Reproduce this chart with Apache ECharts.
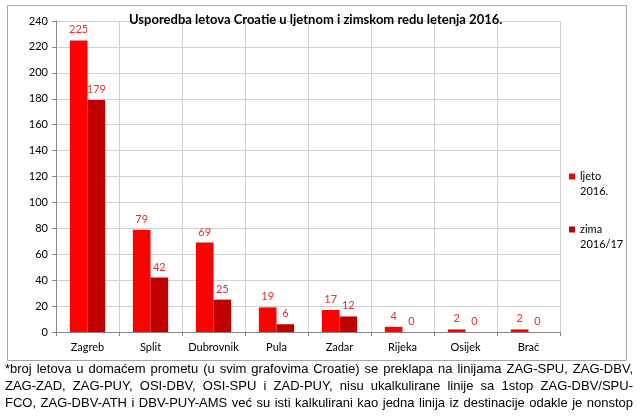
<!DOCTYPE html>
<html>
<head>
<meta charset="utf-8">
<script src="https://cdn.jsdelivr.net/npm/echarts@6/dist/echarts.min.js"></script>
<style>
  body { margin: 0; background: #fff; }
  #chart { position: absolute; left: 0; top: 0; width: 640px; height: 418px; }
  #note { position: absolute; left: 5px; top: 360px; width: 628px;
          font-family: "Liberation Sans", Arial, sans-serif; font-size: 13px; line-height: 17px; color: #000; }
  #note div { text-align: justify; text-align-last: justify; white-space: nowrap; }
</style>
</head>
<body>
<div id="chart"></div>
<div id="note">
  <div>*broj letova u domaćem prometu (u svim grafovima Croatie) se preklapa na linijama ZAG-SPU, ZAG-DBV,</div>
  <div>ZAG-ZAD, ZAG-PUY, OSI-DBV, OSI-SPU i ZAD-PUY, nisu ukalkulirane linije sa 1stop ZAG-DBV/SPU-</div>
  <div>FCO, ZAG-DBV-ATH i DBV-PUY-AMS već su isti kalkulirani kao jedna linija iz destinacije odakle je nonstop</div>
</div>
<script>
// data
let cities = ['Zagreb', 'Split', 'Dubrovnik', 'Pula', 'Zadar', 'Rijeka', 'Osijek', 'Brač'];
let ljeto = [225, 79, 69, 19, 17, 4, 2, 2];
let zima = [179, 42, 25, 6, 12, 0, 0, 0];
let seriesNames = ['ljeto 2016.', 'zima 2016/17'];

let font = 'Lato';

let option = {
    animation: false,
    title: {
        text: 'Usporedba letova Croatie u ljetnom i zimskom redu letenja 2016.',
        left: 124,
        top: 8,
        textStyle: { fontFamily: font, fontSize: 13, fontWeight: 'bold', color: '#000' }
    },
    legend: {
        data: seriesNames,
        orient: 'vertical',
        left: 564,
        top: 149,
        itemWidth: 6,
        itemHeight: 6,
        itemGap: 8,
        icon: 'rect',
        // empty first line so the square sits beside the first word
        formatter: function (name) { return '\n' + name.replace(' ', '\n'); },
        textStyle: { fontFamily: font, fontSize: 11, lineHeight: 15, color: '#000' }
    },
    graphic: [{
        type: 'rect',
        shape: { x: 7.5, y: 5.5, width: 619, height: 355 },
        style: { fill: 'none', stroke: '#a6a6a6', lineWidth: 1 },
        z: -1
    }],
    grid: { left: 56, right: 80, top: 21, bottom: 86 },
    xAxis: [{
        type: 'category',
        data: cities,
        axisLine: { lineStyle: { color: '#868686' } },
        axisTick: { show: true, length: 4, lineStyle: { color: '#868686' } },
        splitLine: { show: true, lineStyle: { color: '#d0d0d0' } },
        axisLabel: { fontFamily: font, fontSize: 11, color: '#000', margin: 10, interval: 0 }
    }],
    yAxis: [{
        type: 'value',
        min: 0,
        max: 240,
        interval: 20,
        axisLine: { show: true, lineStyle: { color: '#868686' } },
        axisTick: { show: true, length: 4, lineStyle: { color: '#868686' } },
        splitLine: { lineStyle: { color: '#d0d0d0' } },
        axisLabel: { fontFamily: font, fontSize: 11, color: '#000', margin: 8 }
    }],
    series: [{
        name: seriesNames[0],
        type: 'bar',
        data: ljeto,
        barGap: '0%',
        barCategoryGap: '44%',
        itemStyle: { color: '#ff0000' },
        label: { show: true, position: 'top', distance: 5, fontFamily: font, fontSize: 11, color: '#ee2b2b' }
    }, {
        name: seriesNames[1],
        type: 'bar',
        data: zima,
        itemStyle: { color: '#c00000' },
        label: { show: true, position: 'top', distance: 5, fontFamily: font, fontSize: 11, color: '#ee2b2b' }
    }]
};

let myChart = echarts.init(document.getElementById('chart'));
myChart.setOption(option);
</script>
</body>
</html>
